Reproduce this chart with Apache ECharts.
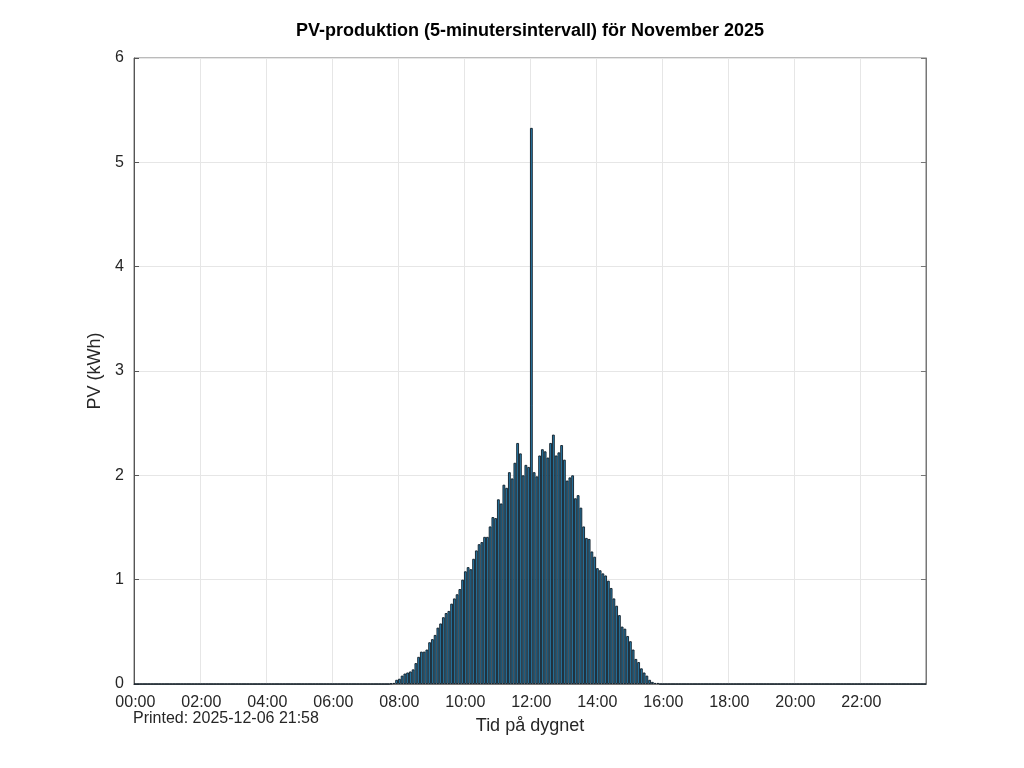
<!DOCTYPE html>
<html>
<head>
<meta charset="utf-8">
<script src="https://cdn.jsdelivr.net/npm/echarts@6/dist/echarts.min.js"></script>
<style>
  html, body { margin: 0; padding: 0; background: #fff; }
  #pvChart { width: 1024px; height: 768px; }
</style>
</head>
<body>
<div id="pvChart"></div>
<script>
// PV per 5-minute slot (kWh), one row per hour: :00 :05 ... :55
const pvHour00 = [0, 0, 0, 0, 0, 0, 0, 0, 0, 0, 0, 0]
const pvHour01 = [0, 0, 0, 0, 0, 0, 0, 0, 0, 0, 0, 0]
const pvHour02 = [0, 0, 0, 0, 0, 0, 0, 0, 0, 0, 0, 0]
const pvHour03 = [0, 0, 0, 0, 0, 0, 0, 0, 0, 0, 0, 0]
const pvHour04 = [0, 0, 0, 0, 0, 0, 0, 0, 0, 0, 0, 0]
const pvHour05 = [0, 0, 0, 0, 0, 0, 0, 0, 0, 0, 0, 0]
const pvHour06 = [0, 0, 0, 0, 0, 0, 0, 0, 0, 0, 0, 0]
const pvHour07 = [0, 0, 0, 0, 0, 0, 0, 0, 0, 0.005, 0.01, 0.04]
const pvHour08 = [0.05, 0.08, 0.10, 0.11, 0.12, 0.14, 0.20, 0.26, 0.31, 0.31, 0.33, 0.40]
const pvHour09 = [0.43, 0.47, 0.54, 0.58, 0.64, 0.68, 0.70, 0.77, 0.82, 0.86, 0.91, 1.00]
const pvHour10 = [1.08, 1.12, 1.10, 1.20, 1.28, 1.34, 1.36, 1.41, 1.41, 1.51, 1.60, 1.59]
const pvHour11 = [1.77, 1.73, 1.91, 1.88, 2.03, 1.97, 2.12, 2.31, 2.21, 2.00, 2.10, 2.08]
const pvHour12 = [5.33, 2.03, 1.99, 2.19, 2.25, 2.23, 2.17, 2.31, 2.39, 2.19, 2.22, 2.29]
const pvHour13 = [2.15, 1.95, 1.98, 2.00, 1.78, 1.81, 1.69, 1.51, 1.40, 1.39, 1.27, 1.22]
const pvHour14 = [1.11, 1.09, 1.06, 1.04, 0.99, 0.92, 0.82, 0.75, 0.66, 0.55, 0.53, 0.46]
const pvHour15 = [0.41, 0.33, 0.24, 0.21, 0.15, 0.11, 0.08, 0.04, 0.02, 0.01, 0.01, 0]
const pvHour16 = [0, 0, 0, 0, 0, 0, 0, 0, 0, 0, 0, 0]
const pvHour17 = [0, 0, 0, 0, 0, 0, 0, 0, 0, 0, 0, 0]
const pvHour18 = [0, 0, 0, 0, 0, 0, 0, 0, 0, 0, 0, 0]
const pvHour19 = [0, 0, 0, 0, 0, 0, 0, 0, 0, 0, 0, 0]
const pvHour20 = [0, 0, 0, 0, 0, 0, 0, 0, 0, 0, 0, 0]
const pvHour21 = [0, 0, 0, 0, 0, 0, 0, 0, 0, 0, 0, 0]
const pvHour22 = [0, 0, 0, 0, 0, 0, 0, 0, 0, 0, 0, 0]
const pvHour23 = [0, 0, 0, 0, 0, 0, 0, 0, 0, 0, 0, 0]

const yTicks = [0, 1, 2, 3, 4, 5, 6]
const titleText = 'PV-produktion (5-minutersintervall) för November 2025'
const printedText = 'Printed: 2025-12-06 21:58'

const pvValues = [].concat(
  pvHour00, pvHour01, pvHour02, pvHour03, pvHour04, pvHour05,
  pvHour06, pvHour07, pvHour08, pvHour09, pvHour10, pvHour11,
  pvHour12, pvHour13, pvHour14, pvHour15, pvHour16, pvHour17,
  pvHour18, pvHour19, pvHour20, pvHour21, pvHour22, pvHour23
)

// 00:00, 00:05, ... 23:55
const timeSlots = []
for (let h = 0; h < 24; h++) {
  for (let m = 0; m < 60; m += 5) {
    timeSlots.push(String(h).padStart(2, '0') + ':' + String(m).padStart(2, '0'))
  }
}

const font = '"Liberation Sans", Arial, Helvetica, sans-serif'
const axisColor = '#555'
const gridColor = '#e6e6e6'
const textColor = '#262626'

const pvChart = echarts.init(document.getElementById('pvChart'))

const pvOption = {
  animation: false,
  textStyle: { fontFamily: font },
  grid: {
    left: 134,
    right: 98,
    top: 58,
    bottom: 84,
    show: true,
    borderColor: '#777',
    borderWidth: 1
  },
  graphic: [
    {
      type: 'text',
      x: 530,
      y: 22,
      style: {
        text: titleText,
        fill: '#000',
        font: 'bold 18px ' + font,
        textAlign: 'center'
      }
    },
    {
      type: 'text',
      x: 133,
      y: 711,
      style: {
        text: printedText,
        fill: textColor,
        font: '16px ' + font
      }
    }
  ],
  xAxis: [
    {
      type: 'category',
      data: timeSlots,
      boundaryGap: true,
      name: 'Tid på dygnet',
      nameLocation: 'middle',
      nameGap: 33,
      nameTextStyle: { fontSize: 18, color: textColor, fontFamily: font },
      axisLine: { lineStyle: { color: axisColor } },
      axisTick: { inside: true, length: 5, interval: 23, lineStyle: { color: axisColor } },
      axisLabel: { interval: 23, fontSize: 16, color: textColor, margin: 11, fontFamily: font },
      splitLine: { show: true, interval: 23, lineStyle: { color: gridColor } }
    },
    {
      type: 'category',
      data: timeSlots,
      position: 'top',
      boundaryGap: true,
      axisLine: { lineStyle: { color: '#777' } },
      axisTick: { inside: true, length: 5, interval: 23, lineStyle: { color: '#777' } },
      axisLabel: { show: false },
      splitLine: { show: false }
    }
  ],
  yAxis: [
    {
      type: 'value',
      min: yTicks[0],
      max: yTicks[yTicks.length - 1],
      interval: 1,
      name: 'PV (kWh)',
      nameLocation: 'middle',
      nameGap: 23,
      nameTextStyle: { fontSize: 18, color: textColor, fontFamily: font },
      axisLine: { show: true, lineStyle: { color: axisColor } },
      axisTick: { show: true, inside: true, length: 5, lineStyle: { color: axisColor } },
      axisLabel: { fontSize: 16, color: textColor, margin: 10, fontFamily: font },
      splitLine: { show: true, lineStyle: { color: gridColor } }
    },
    {
      type: 'value',
      position: 'right',
      min: yTicks[0],
      max: yTicks[yTicks.length - 1],
      interval: 1,
      axisLine: { show: true, lineStyle: { color: '#777' } },
      axisTick: { show: true, inside: true, length: 5, lineStyle: { color: '#777' } },
      axisLabel: { show: false },
      splitLine: { show: false }
    }
  ],
  series: [
    {
      name: 'PV',
      type: 'bar',
      xAxisIndex: 0,
      yAxisIndex: 0,
      data: pvValues,
      barCategoryGap: '0%',
      itemStyle: {
        color: '#2a7fae',
        borderColor: '#0e1c26',
        borderWidth: 0.9
      }
    }
  ]
}

pvChart.setOption(pvOption)
</script>
</body>
</html>
